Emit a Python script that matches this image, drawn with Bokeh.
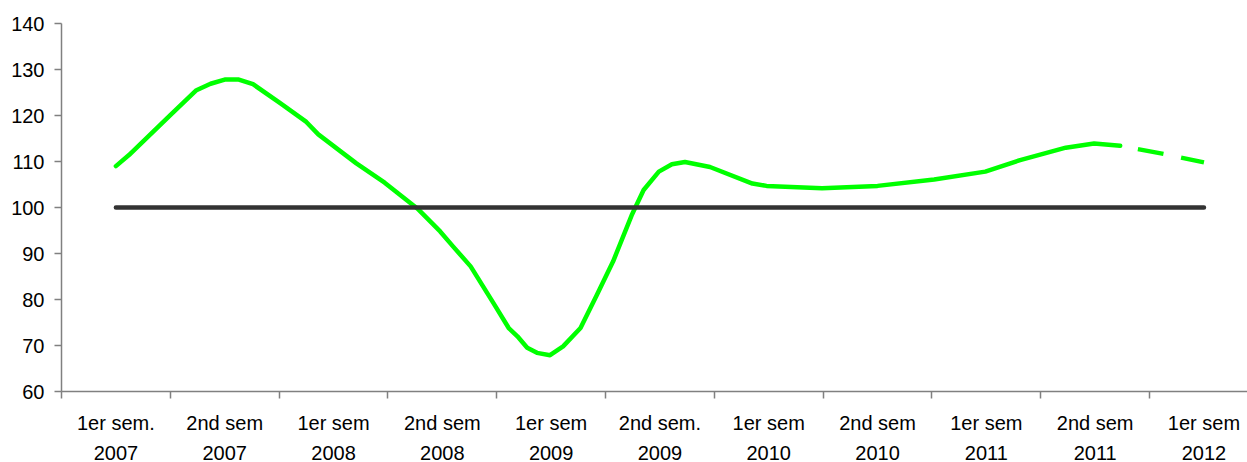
from bokeh.plotting import figure
from bokeh.models import Range1d, FixedTicker, LinearAxis
from bokeh.embed import file_html
from bokeh.resources import INLINE

# Category labels (one per semester): first line and second line
sem_labels = ["1er sem.", "2nd sem", "1er sem", "2nd sem", "1er sem", "2nd sem.",
              "1er sem", "2nd sem", "1er sem", "2nd sem", "1er sem"]
year_labels = ["2007", "2007", "2008", "2008", "2009", "2009",
               "2010", "2010", "2011", "2011", "2012"]

# Green index curve (position in category units, value)
green_pos = [0.50, 0.62, 1.00, 1.24, 1.37, 1.50, 1.63, 1.76, 2.01, 2.25, 2.36, 2.71,
             2.97, 3.27, 3.48, 3.60, 3.76, 3.97, 4.11, 4.19, 4.28, 4.37, 4.49, 4.61,
             4.77, 4.92, 5.07, 5.24, 5.35, 5.49, 5.61, 5.73, 5.96, 6.35, 6.48, 6.99,
             7.50, 8.02, 8.49, 8.81, 9.23, 9.49, 9.73]
green_val = [109.0, 111.4, 120.1, 125.5, 126.9, 127.8, 127.8, 126.8, 122.7, 118.6, 115.9, 109.6,
             105.4, 99.8, 94.8, 91.5, 87.2, 79.2, 73.8, 72.0, 69.5, 68.4, 67.9, 69.8,
             73.8, 81.0, 88.3, 98.3, 103.8, 107.8, 109.4, 109.9, 108.8, 105.2, 104.7, 104.2,
             104.7, 106.1, 107.8, 110.3, 113.0, 113.9, 113.4]

# Projected (dashed) part
proj_pos = [9.73, 10.14, 10.50]
proj_val = [113.4, 111.6, 109.8]

# Reference level (base 100) at each semester
base_val = [100] * len(sem_labels)

y_ticks = [60, 70, 80, 90, 100, 110, 120, 130, 140]

centers = [i + 0.5 for i in range(len(sem_labels))]
bounds = [i for i in range(len(sem_labels))]

p = figure(width=1247, height=462, output_backend="svg", toolbar_location=None,
           x_range=Range1d(0, 10.90), y_range=Range1d(60, 140),
           min_border_left=61, min_border_top=23, min_border_right=0, min_border_bottom=0)
p.outline_line_color = None
p.background_fill_color = "white"
p.border_fill_color = "white"
p.xgrid.visible = False
p.ygrid.visible = False

p.line(green_pos, green_val, line_color="#00FF00", line_width=4.5,
       line_join="round", line_cap="round")
p.line(proj_pos, proj_val, line_color="#00FF00", line_width=4.5,
       line_dash="26 18", line_dash_offset=26)
p.line(centers, base_val, line_color="#333333", line_width=4.5, line_cap="round")

font = "Liberation Sans"

xa = p.xaxis[0]
xa.ticker = FixedTicker(ticks=centers, minor_ticks=bounds)
xa.major_label_overrides = {c: lab for c, lab in zip(centers, sem_labels)}
xa.major_tick_out = 0
xa.major_tick_in = 0
xa.minor_tick_out = 7
xa.minor_tick_in = 0
xa.minor_tick_line_color = "#808080"
xa.minor_tick_line_width = 1.5
xa.axis_line_color = "#808080"
xa.axis_line_width = 1.5
xa.major_label_text_font = font
xa.major_label_text_font_size = "20px"
xa.major_label_text_color = "black"
xa.major_label_standoff = 13

xb = LinearAxis(ticker=FixedTicker(ticks=centers))
xb.major_label_overrides = {c: lab for c, lab in zip(centers, year_labels)}
xb.axis_line_color = None
xb.major_tick_line_color = None
xb.minor_tick_line_color = None
xb.major_tick_out = 0
xb.major_tick_in = 0
xb.minor_tick_out = 0
xb.minor_tick_in = 0
xb.major_label_text_font = font
xb.major_label_text_font_size = "20px"
xb.major_label_text_color = "black"
xb.major_label_standoff = 9
p.add_layout(xb, "below")

ya = p.yaxis[0]
ya.ticker = FixedTicker(ticks=y_ticks)
ya.major_tick_out = 7
ya.major_tick_in = 0
ya.minor_tick_out = 0
ya.minor_tick_in = 0
ya.major_tick_line_color = "#808080"
ya.major_tick_line_width = 1.5
ya.axis_line_color = "#808080"
ya.axis_line_width = 1.5
ya.major_label_text_font = font
ya.major_label_text_font_size = "20px"
ya.major_label_text_color = "black"
ya.major_label_standoff = 10

open("out.html", "w").write(file_html(p, INLINE))
